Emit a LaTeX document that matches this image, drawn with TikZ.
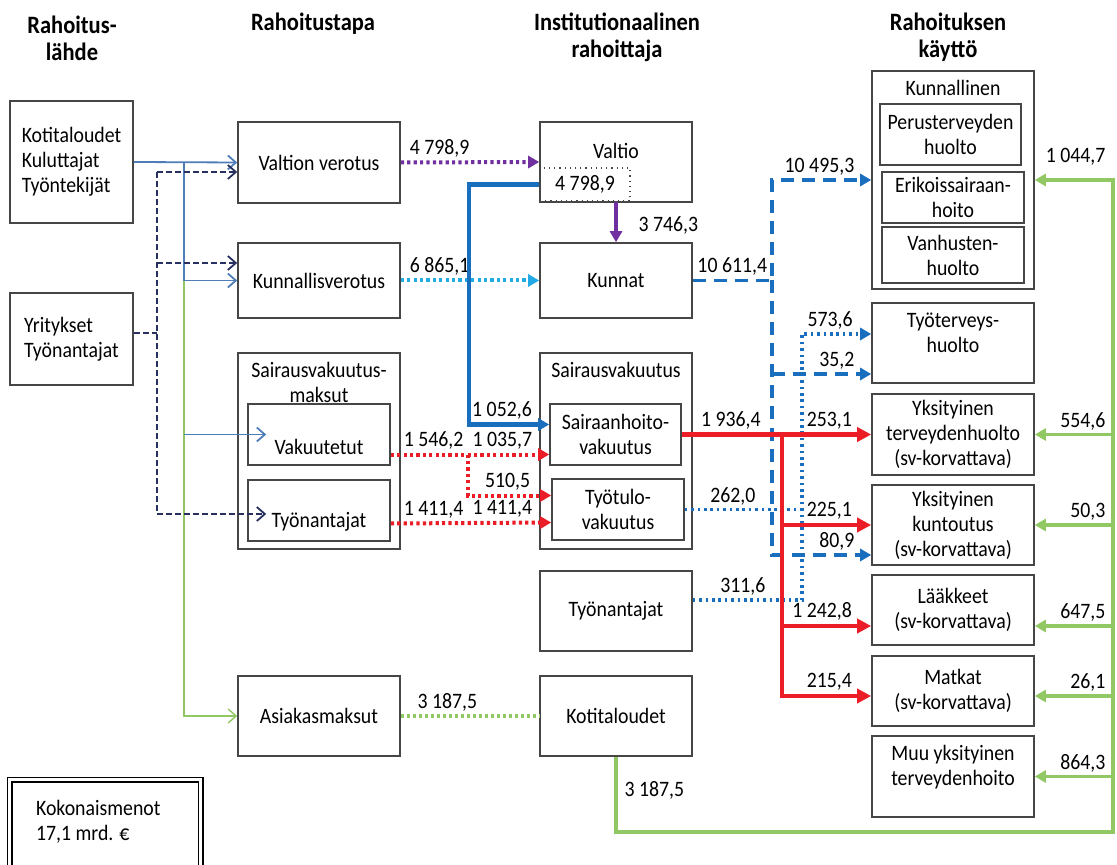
\documentclass[tikz,border=0pt]{standalone}
\usepackage{fontspec}
\setmainfont{Carlito}[FakeStretch=0.9]
\usetikzlibrary{arrows.meta,positioning}

\definecolor{boxgray}{RGB}{70,70,70}
\definecolor{srcblue}{RGB}{79,125,184}
\definecolor{empnavy}{RGB}{40,48,95}
\definecolor{feegreen}{RGB}{146,200,100}
\definecolor{statepurple}{RGB}{112,48,160}
\definecolor{muncyan}{RGB}{35,170,230}
\definecolor{flowblue}{RGB}{25,110,190}
\definecolor{insred}{RGB}{235,30,40}

\tikzset{
  box/.style={draw=boxgray, line width=.8pt, align=center, inner xsep=2pt, inner ysep=1pt},
  title/.style={anchor=north, align=center, inner sep=2pt, yshift=-3pt},
  head/.style={align=center, font=\fontsize{12.5}{13.5}\selectfont\bfseries},
  lbl/.style={inner sep=1.5pt},
  otip/.style={-{Straight Barb[length=4pt,width=7pt]}},
  ftip/.style={-{Triangle[length=5.5pt,width=6pt]}},
  rtip/.style={-{Triangle[length=7pt,width=7pt]}},
  src/.style={draw=srcblue, line width=.9pt},
  fee/.style={draw=feegreen, line width=.7pt},
  emp/.style={draw=empnavy, line width=.9pt, dash pattern=on 3pt off 1.5pt},
  vat/.style={draw=statepurple, line width=2pt, dash pattern=on 1.6pt off 1.6pt},
  kun/.style={draw=muncyan, line width=2pt, dash pattern=on 1.6pt off 1.6pt},
  transfer/.style={draw=statepurple, line width=1.6pt},
  stateflow/.style={draw=flowblue, line width=2.4pt},
  sv/.style={draw=insred, line width=2pt, dash pattern=on 1.6pt off 1.6pt},
  svflow/.style={draw=insred, line width=2.3pt},
  mun/.style={draw=flowblue, line width=1.9pt, dash pattern=on 6.5pt off 4pt},
  occ/.style={draw=flowblue, line width=1.6pt, dash pattern=on 1.3pt off 1.9pt},
  own/.style={draw=feegreen, line width=1.6pt},
  feedot/.style={draw=feegreen, line width=1.8pt, dash pattern=on 1.5pt off 1.5pt}
}

\begin{document}
\begin{tikzpicture}[x=.5pt, y=-.5pt, font=\fontsize{11}{12.5}\selectfont]
        \useasboundingbox (0,0) rectangle (1117,865);
        % column headers
        \node[head] (H0) at (72,38) {Rahoitus-\\lähde};
        \node[head] (H1) at (313,24) {Rahoitustapa};
        \node[head] (H2) at (617,37) {Institutionaalinen\\rahoittaja};
        \node[head] (H3) at (948,37) {Rahoituksen\\käyttö};
        % sources
        \node[box, align=left, minimum width=61.5pt, minimum height=61pt] (A0_0) at (71.5,162) {Kotitaloudet\\Kuluttajat\\Työntekijät};
        \node[box, align=left, minimum width=61.5pt, minimum height=46pt] (A0_1) at (71.5,339) {Yritykset\\Työnantajat};
        % ways of financing
        \node[box, minimum width=81pt, minimum height=40.5pt] (A1_0) at (319,162.5) {Valtion verotus};
        \node[box, minimum width=81pt, minimum height=37.5pt] (A1_1) at (319,280.5) {Kunnallisverotus};
        \node[box, minimum width=81pt, minimum height=98pt, label={[title]north:Sairausvakuutus-\\maksut}] (A1_2) at (319,451) {};
        \node[box, minimum width=71pt, minimum height=30.5pt, label={[yshift=-6pt]center:Vakuutetut}] (A1_3) at (319,434.5) {};
        \node[box, minimum width=71pt, minimum height=30.5pt, label={[yshift=-5.5pt]center:Työnantajat}] (A1_4) at (319,510.5) {};
        \node[box, minimum width=81pt, minimum height=40pt] (A1_5) at (319,716) {Asiakasmaksut};
        % institutional financers
        \node[box, minimum width=76pt, minimum height=40pt, label={[title, yshift=-6pt]north:Valtio}] (A2_0) at (616,162) {};
        \node[draw=boxgray, dotted, line width=.6pt, minimum width=45pt, minimum height=16.5pt, inner sep=0pt] (A2_1) at (585,184.5) {4 798,9};
        \node[box, minimum width=76pt, minimum height=37.5pt] (A2_2) at (616,280.5) {Kunnat};
        \node[box, minimum width=76pt, minimum height=98pt, label={[title]north:Sairausvakuutus}] (A2_3) at (616,451) {};
        \node[box, minimum width=65.5pt, minimum height=30.5pt] (A2_4) at (615.5,434.5) {Sairaanhoito-\\vakuutus};
        \node[box, minimum width=66pt, minimum height=30.5pt] (A2_5) at (618,509.5) {Työtulo-\\vakuutus};
        \node[box, minimum width=76pt, minimum height=40pt] (A2_6) at (616,611) {Työnantajat};
        \node[box, minimum width=76pt, minimum height=40pt] (A2_7) at (616,716) {Kotitaloudet};
        % use of financing
        \node[box, minimum width=81pt, minimum height=109pt, label={[title]north:Kunnallinen}] (A3_0) at (953,180) {};
        \node[box, minimum width=70.5pt, minimum height=30.5pt] (A3_1) at (950.5,134.5) {Perusterveyden\\huolto};
        \node[box, inner ysep=0pt, minimum width=71pt, minimum height=25.5pt] (A3_2) at (953,197.5) {Erikoissairaan-\\hoito};
        \node[box, minimum width=71pt, minimum height=28pt] (A3_3) at (953,255) {Vanhusten-\\huolto};
        \node[box, minimum width=81pt, minimum height=40pt, label={[title]north:Työterveys-\\huolto}] (A3_4) at (953,343) {};
        \node[box, minimum width=81pt, minimum height=40.5pt] (A3_5) at (953,434.5) {Yksityinen\\terveydenhuolto\\(sv-korvattava)};
        \node[box, minimum width=81pt, minimum height=40pt] (A3_6) at (953,525) {Yksityinen\\kuntoutus\\(sv-korvattava)};
        \node[box, minimum width=81pt, minimum height=35pt] (A3_7) at (953,610) {Lääkkeet\\(sv-korvattava)};
        \node[box, minimum width=81pt, minimum height=35pt] (A3_8) at (953,691) {Matkat\\(sv-korvattava)};
        \node[box, minimum width=81pt, minimum height=40.5pt, label={[title]north:Muu yksityinen\\terveydenhoito}] (A3_9) at (953,776.5) {};
        % total
        \node[draw=black, double, double distance=1.6pt, line width=.8pt, anchor=north west, minimum width=95.5pt, minimum height=50pt,
          label={[anchor=north west, align=left, xshift=10pt, yshift=-7pt]north west:{Kokonaismenot\\17,1 mrd. €}}] (K) at (9,779) {};
        % junctions
        \coordinate (J0) at (184,162);
        \coordinate (J1) at (184,281);
        \coordinate (T0) at (157,172);
        \coordinate (T1) at (157,263);
        \coordinate (T2) at (157,514);
        \coordinate (S0) at (469,0);
        \coordinate (R0) at (468,0);
        \coordinate (M0) at (772,0);
        \coordinate (D0) at (802,0);
        \coordinate (R1) at (782,0);
        \coordinate (E0) at (1113,832);
        \coordinate (V0) at ([yshift=-10pt]A1_3.east);
        \coordinate (V1) at ([yshift=-10pt]A2_4.west);
        \coordinate (V2) at ([yshift=7pt]A2_5.west);
        \coordinate (V3) at ([yshift=-6.5pt]A1_4.east);
        \coordinate (V4) at ([yshift=-6.5pt]A2_5.west);
        \coordinate (W0) at ([yshift=-15.5pt]A3_4.west);
        \coordinate (W1) at ([yshift=-15pt]A3_6.west);
        \coordinate (W2) at ([yshift=4.5pt]A3_4.west);
        \coordinate (W3) at ([yshift=5.5pt]A2_6.east);
        \coordinate (W4) at ([yshift=-8pt]A3_7.west);
        \coordinate (W5) at ([yshift=-2.5pt]A3_8.west);
        \coordinate (W6) at ([yshift=-8pt]A3_7.east);
        \coordinate (W7) at ([yshift=-2.5pt]A3_8.east);
        % sources -> ways
        \path (A0_0.east) edge[src, otip] (A1_0.west);
        \draw[src, otip] (J0) |- (A1_1.west);
        \draw[fee, otip] (J1) |- (A1_5.west);
        \draw[src, otip, shorten >=-9.5pt] (J1 |- A1_3) -- (A1_3.west);
        \draw[emp] ([yshift=3pt]A0_1.east) -- ([yshift=3pt]A0_1.east -| T0);
        \draw[emp] (T0) -- (T2);
        \draw[emp, otip] (T0) -- (A1_0.west |- T0);
        \draw[emp, otip] (T1) -- (A1_1.west |- T1);
        \draw[emp, otip, shorten >=-9.5pt] (T2) -- (A1_4.west |- T2);
        % ways -> financers
        \path (A1_0.east) edge[vat, ftip] node[lbl, pos=0, anchor=south west, xshift=2pt] {4 798,9} (A2_0.west);
        \path (A1_1.east) edge[kun, ftip] node[lbl, pos=0, anchor=south west, xshift=2pt] {6 865,1} (A2_2.west);
        \path (A1_5.east) edge[feedot] node[lbl, pos=0, anchor=south west, xshift=6pt] {3 187,5} (A2_7.west);
        \path (V0) edge[sv, ftip] node[lbl, pos=0, anchor=south west, xshift=4pt] {1 546,2}
          node[lbl, pos=1, anchor=south east, xshift=-6pt] {1 035,7} (V1);
        \draw[sv, ftip] (V0 -| R0) |- node[lbl, pos=1, anchor=south east, xshift=-8pt] {510,5} (V2);
        \path (V3) edge[sv, ftip] node[lbl, pos=0, anchor=south west, xshift=4pt] {1 411,4}
          node[lbl, pos=1, anchor=south east, xshift=-7pt] {1 411,4} (V4);
        \draw[transfer, ftip] (A2_1.south -| A2_2.north) -- node[lbl, pos=.6, anchor=west, xshift=9pt] {3 746,3} (A2_2.north);
        \draw[stateflow, ftip] (A2_1.west) -- (S0 |- A2_1.west) |- node[lbl, pos=1, anchor=south east, xshift=-6pt] {1 052,6} ([yshift=5pt]A2_4.west);
        % financers -> use
        \draw[mun, ftip] (A2_2.east) -- node[lbl, pos=1, anchor=south east] {10 611,4} (M0 |- A2_2.east)
          |- node[lbl, pos=1, anchor=south east, xshift=-6pt] {10 495,3} (A3_0.west);
        \draw[mun, ftip] (M0 |- A2_2.east) |- node[lbl, pos=1, anchor=south east, xshift=-6pt] {80,9} (W1);
        \draw[mun, ftip] (M0 |- W0) -- node[lbl, pos=1, anchor=south east, xshift=-6pt] {35,2} (W0);
        \draw[occ] (A2_5.east) -- node[lbl, pos=1, anchor=south east, xshift=-21pt] {262,0} (D0 |- A2_5.east);
        \draw[occ, ftip] (W3) -- node[lbl, pos=1, anchor=south east, xshift=-16pt] {311,6} (D0 |- W3)
          -- (D0 |- W2) -- node[lbl, pos=1, anchor=south east, xshift=-7pt] {573,6} (W2);
        \path (A2_4.east) edge[svflow, rtip] node[lbl, pos=0, anchor=south west, xshift=7pt] {1 936,4}
          node[lbl, pos=1, anchor=south east, xshift=-7pt] {253,1} (A3_5.west);
        \draw[svflow, rtip] (R1 |- A3_5.west) |- node[lbl, pos=1, anchor=south east, xshift=-7pt] {215,4} (W5);
        \draw[svflow, rtip] (R1 |- A3_6.west) -- node[lbl, pos=1, anchor=south east, xshift=-7pt] {225,1} (A3_6.west);
        \draw[svflow, rtip] (R1 |- W4) -- node[lbl, pos=1, anchor=south east, xshift=-7pt] {1 242,8} (W4);
        % households' own payments
        \draw[own, ftip] (A2_7.south) |- node[lbl, pos=.22, anchor=west, xshift=2pt] {3 187,5} (E0)
          |- node[lbl, pos=.5, anchor=south east, xshift=-1.5pt, yshift=5pt] {1 044,7} (A3_0.east);
        \draw[own, ftip] (E0 |- A3_5.east) -- node[lbl, pos=0, anchor=south east, xshift=-1.5pt] {554,6} (A3_5.east);
        \draw[own, ftip] (E0 |- A3_6.east) -- node[lbl, pos=0, anchor=south east, xshift=-1.5pt] {50,3} (A3_6.east);
        \draw[own, ftip] (E0 |- W6) -- node[lbl, pos=0, anchor=south east, xshift=-1.5pt] {647,5} (W6);
        \draw[own, ftip] (E0 |- W7) -- node[lbl, pos=0, anchor=south east, xshift=-1.5pt] {26,1} (W7);
        \draw[own, ftip] (E0 |- A3_9.east) -- node[lbl, pos=0, anchor=south east, xshift=-1.5pt] {864,3} (A3_9.east);
      \end{tikzpicture}
\end{document}
